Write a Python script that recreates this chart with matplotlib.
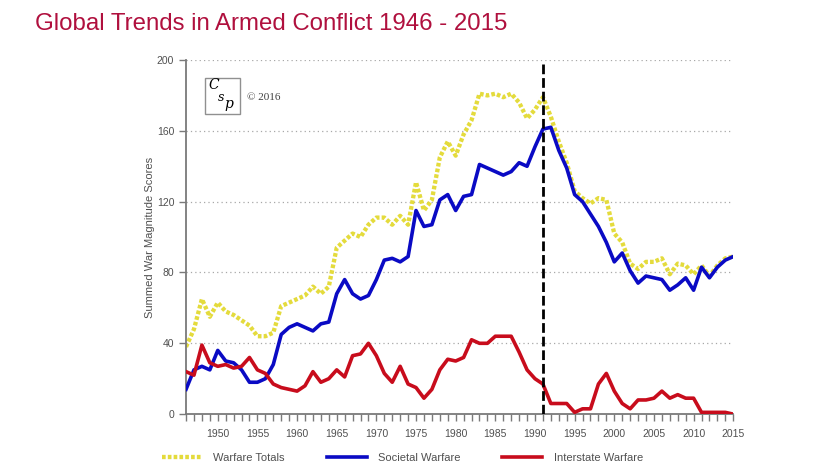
import matplotlib
matplotlib.use("Agg")
import matplotlib.pyplot as plt
from matplotlib.patches import Rectangle

plt.rcParams['font.family'] = ['Liberation Sans', 'DejaVu Sans']

# --- data ---
years = list(range(1946, 2016))

warfare_totals = [38, 48, 65, 55, 63, 58, 56, 53, 50, 44,
                  44, 46, 61, 63, 65, 67, 72, 68, 72, 94,
                  98, 102, 100, 107, 111, 111, 107, 112, 107, 131,
                  115, 121, 145, 154, 146, 158, 166, 181, 180, 181,
                  179, 181, 176, 167, 172, 179, 168, 154, 142, 126,
                  122, 119, 122, 121, 102, 97, 85, 82, 86, 86,
                  88, 79, 85, 84, 79, 84, 78, 84, 88, 89]

societal = [14, 25, 27, 25, 36, 30, 29, 25, 18, 18,
            20, 28, 45, 49, 51, 49, 47, 51, 52, 68,
            76, 68, 65, 67, 76, 87, 88, 86, 89, 115,
            106, 107, 121, 124, 115, 123, 124, 141, 139, 137,
            135, 137, 142, 140, 151, 161, 162, 149, 139, 124,
            120, 113, 106, 97, 86, 91, 81, 74, 78, 77,
            76, 70, 73, 77, 70, 83, 77, 83, 87, 89]

interstate = [24, 22, 39, 29, 27, 28, 26, 27, 32, 25,
              23, 17, 15, 14, 13, 16, 24, 18, 20, 25,
              21, 33, 34, 40, 33, 23, 18, 27, 17, 15,
              9, 14, 25, 31, 30, 32, 42, 40, 40, 44,
              44, 44, 35, 25, 20, 17, 6, 6, 6, 1,
              3, 3, 17, 23, 13, 6, 3, 8, 8, 9,
              13, 9, 11, 9, 9, 1, 1, 1, 1, 0]

cold_war_end = 1991
y_ticks = [0, 40, 80, 120, 160, 200]
x_label_years = list(range(1950, 2016, 5))

yellow = '#e4db3c'
blue = '#0a0ac4'
red = '#c80c1c'
axis_grey = '#7a7a7a'
text_grey = '#505050'

fig = plt.figure(figsize=(8.38, 4.69), dpi=100)
ax = fig.add_axes([0.222, 0.117, 0.653, 0.755])

ax.plot(years, warfare_totals, color=yellow, lw=3.1, dashes=(0.85, 0.5),
        dash_capstyle='butt', label='Warfare Totals', zorder=2)
ax.plot(years, societal, color=blue, lw=2.6, label='Societal Warfare',
        solid_joinstyle='round', zorder=3)
ax.plot(years, interstate, color=red, lw=2.6, label='Interstate Warfare',
        solid_joinstyle='round', zorder=4)
ax.axvline(cold_war_end, ymax=0.99, color='black', lw=2, dashes=(3.5, 1.4), zorder=5)

ax.set_xlim(1946, 2015)
ax.set_ylim(0, 200)
ax.set_yticks(y_ticks)
ax.set_xticks(years, minor=True)
ax.set_xticks(x_label_years)
for v in y_ticks[1:]:
    ax.axhline(v, color='#a8a8a8', lw=0.9, ls=(0, (1, 2.5)), zorder=1)

for s in ['top', 'right']:
    ax.spines[s].set_visible(False)
for s in ['left', 'bottom']:
    ax.spines[s].set_color(axis_grey)
    ax.spines[s].set_linewidth(1.3)
ax.tick_params(axis='both', which='both', direction='out', color=axis_grey,
               length=5, width=1, labelsize=7.5, labelcolor=text_grey)
ax.tick_params(axis='x', pad=6)
ax.set_ylabel('Summed War Magnitude Scores', fontsize=8, color=text_grey, labelpad=1)

# CSP logo box
ax.add_patch(Rectangle((0.035, 0.847), 0.064, 0.102, transform=ax.transAxes,
                       facecolor='white', edgecolor='#909090', lw=1, zorder=6))
ax.text(0.050, 0.93, 'C', transform=ax.transAxes, fontsize=10, style='italic',
        family='DejaVu Serif', ha='center', va='center', zorder=7)
ax.text(0.064, 0.895, 's', transform=ax.transAxes, fontsize=9, style='italic',
        family='DejaVu Serif', ha='center', va='center', zorder=7)
ax.text(0.079, 0.875, 'p', transform=ax.transAxes, fontsize=10, style='italic',
        family='DejaVu Serif', ha='center', va='center', zorder=7)
ax.text(0.112, 0.895, '\u00a9 2016', transform=ax.transAxes, fontsize=8,
        family='Liberation Serif', color='#404040', ha='left', va='center')

fig.text(0.042, 0.949, 'Global Trends in Armed Conflict 1946 - 2015',
         fontsize=17.3, color='#b0103e', ha='left', va='center')

fig.legend(loc='center left', bbox_to_anchor=(0.193, 0.0235), ncol=3,
           frameon=False, fontsize=8, handlelength=3.6, handletextpad=1.0,
           columnspacing=3.8, borderpad=0, borderaxespad=0, labelcolor=text_grey)

fig.savefig('out.png', dpi=100)
